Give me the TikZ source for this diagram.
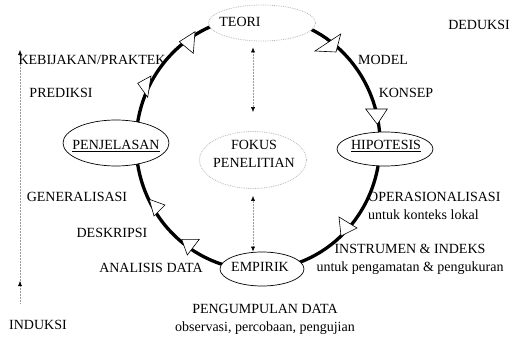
\documentclass[tikz,border=0pt]{standalone}
\usepackage{fontspec}
\setmainfont{Liberation Serif}
\usetikzlibrary{calc}
\usetikzlibrary{arrows.meta}
\usetikzlibrary{shapes.geometric}

\tikzset{
  wheel/.style={line width=3.3pt},
  tri/.style={draw, fill=white, line width=0.6pt, line join=miter},
  stage/.style={draw, ellipse, fill=white, line width=0.7pt, inner sep=0pt},
  hazy/.style={draw=gray!55, densely dotted, ellipse, fill=white, line width=0.8pt, inner sep=0pt},
  word/.style={font=\fontsize{14}{18}\selectfont, inner sep=0pt},
  link/.style={gray!80, line width=0.5pt, densely dotted, {Latex[length=5pt,width=4pt,color=black]}-{Latex[length=5pt,width=4pt,color=black]}},
  axisline/.style={gray!80, line width=0.5pt, densely dotted, -{Latex[length=5pt,width=4pt,color=black]}}
}

\begin{document}
\begin{tikzpicture}[x=1pt, y=-1pt]
\useasboundingbox (0,0) rectangle (514,337);

\draw[wheel] (258,143.3) ellipse [x radius=122, y radius=126.6];

\draw[tri] (315,51) -- (340.7,34) -- (336,52) -- cycle;
\draw[tri] (365.7,109) -- (387.3,109) -- (377.3,124.3) -- cycle;
\draw[tri] (339,217) -- (341,236) -- (357,228) -- cycle;
\draw[tri] (181.7,239.3) -- (199.3,239.3) -- (187.3,255) -- cycle;
\draw[tri] (149.3,199.3) -- (165,205) -- (154,216) -- cycle;
\draw[tri] (137.7,83.3) -- (151,76) -- (147.7,97.3) -- cycle;
\draw[tri] (179.3,41.7) -- (195,31.7) -- (193.3,53.3) -- cycle;

\node[hazy, minimum width=107pt, minimum height=36pt] (teori) at (262,23) {};
\node[hazy, minimum width=107pt, minimum height=57pt] (fokus) at (253,160) {};
\node[stage, minimum width=96pt, minimum height=34pt] (hipotesis) at (385,149) {};
\node[stage, minimum width=106pt, minimum height=46pt] (penjelasan) at (116,143) {};
\node[stage, minimum width=84pt, minimum height=34pt] (empirik) at (262,269) {};

\node[word] (teoritxt) at (240,22) {TEORI};
\node[word, align=center] (fokustxt) at (254,154) {FOKUS\\PENELITIAN};
\node[word] (hipotesistxt) at (386,146) {\underline{HIPOTESIS}};
\node[word] (penjelasantxt) at (116,146) {\underline{PENJELASAN}};
\node[word] (empiriktxt) at (260,267) {EMPIRIK};

\draw[link, shorten <=6pt, shorten >=19pt] (fokus.north |- teori.south) -- (fokus.north);
\draw[link, shorten <=7pt] (fokus.south) -- (fokus.south |- empirik.north);

\coordinate (indbase) at (20,303);
\coordinate (indtop) at (20,50);
\coordinate (indmid) at (20,281);
\draw[axisline] (indbase) -- (indtop);
\draw[axisline] (indbase) -- (indmid);

\node[word] (kebijakan) at (92,60) {KEBIJAKAN/PRAKTEK};
\node[word] (prediksi) at (61,93) {PREDIKSI};
\node[word] (generalisasi) at (77,197) {GENERALISASI};
\node[word] (deskripsi) at (112,233) {DESKRIPSI};
\node[word] (analisis) at (151,268) {ANALISIS DATA};
\node[word] (induksi) at (38,325) {INDUKSI};
\node[word] (deduksi) at (479,25) {DEDUKSI};
\node[word] (model) at (383,60) {MODEL};
\node[word] (konsep) at (406,93) {KONSEP};
\node[word, align=left, anchor=west] (operasional) at (368,206) {OPERASIONALISASI\\untuk konteks lokal};
\node[word, align=center] (instrumen) at (410,259) {INSTRUMEN \& INDEKS\\untuk pengamatan \& pengukuran};
\node[word, align=center] (pengumpulan) at (265,319) {PENGUMPULAN DATA\\observasi, percobaan, pengujian};

\end{tikzpicture}
\end{document}
